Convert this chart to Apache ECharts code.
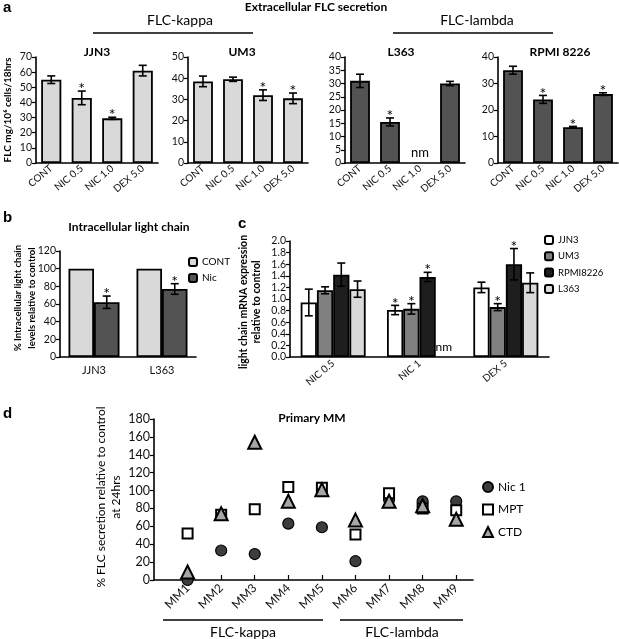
<!DOCTYPE html>
<html><head><meta charset="utf-8">
<script src="https://cdn.jsdelivr.net/npm/echarts@6/dist/echarts.min.js"></script>
<style>html,body{margin:0;padding:0;background:#fff}#c{width:619px;height:639px}</style>
</head><body><div id="c"></div><script>
// ---------- DATA ----------
// Panel a: extracellular FLC secretion
const treatA = ['CONT', 'NIC 0.5', 'NIC 1.0', 'DEX 5.0'];
const jjn3Val = [55, 43, 29.5, 61];
const jjn3Err = [2.5, 4.5, 0.7, 3.5];
const jjn3Sig = [0, 1, 1, 0];
const um3Val = [38.5, 39.5, 32, 30.5];
const um3Err = [2.5, 1, 2.5, 2.5];
const um3Sig = [0, 0, 1, 1];
const l363Val = [31, 15.5, null, 30];
const l363Err = [2.5, 1.5, 0, 0.8];
const l363Sig = [0, 1, 0, 0];
const l363Nm = [0, 0, 1, 0];
const rpmiVal = [35, 24, 13.5, 26];
const rpmiErr = [1.5, 1.5, 0.3, 0.5];
const rpmiSig = [0, 1, 1, 1];
const yTicksA = [{max: 70, step: 10}, {max: 50, step: 10}, {max: 40, step: 5}, {max: 40, step: 10}];
// Panel b: intracellular light chain
const cellsB = ['JJN3', 'L363'];
const bCont = [100, 100];
const bNic = [62, 77];
const bNicErr = [7, 6];
const bNicSig = [1, 1];
// Panel c: light chain mRNA
const treatC = ['NIC 0.5', 'NIC 1', 'DEX 5'];
const cJJN3 = [0.94, 0.81, 1.2];
const cJJN3Err = [0.23, 0.08, 0.09];
const cJJN3Sig = [0, 1, 0];
const cUM3 = [1.15, 0.83, 0.86];
const cUM3Err = [0.06, 0.09, 0.06];
const cUM3Sig = [0, 1, 1];
const cRPMI = [1.42, 1.38, 1.6];
const cRPMIErr = [0.2, 0.08, 0.27];
const cRPMISig = [0, 1, 1];
const cL363 = [1.17, null, 1.28];
const cL363Err = [0.14, 0, 0.17];
const cL363Nm = [0, 1, 0];
// Panel d: primary MM
const mmCats = ['MM1', 'MM2', 'MM3', 'MM4', 'MM5', 'MM6', 'MM7', 'MM8', 'MM9'];
const dNic = [0, 33, 29, 63, 59, 21, 90, 88, 88];
const dMPT = [52, 73, 79, 104, 103, 51, 97, 80, 78];
const dCTD = [9, 74, 154, 88, 101, 67, 88, 83, 68];

// ---------- CHART ----------
const chart = echarts.init(document.getElementById('c'));
const F = 'Lato';
const LIGHT = '#d9d9d9', DARK = '#535353';

const grids = [
  {left: 36, top: 57, width: 122, height: 106},
  {left: 188, top: 57, width: 120, height: 106},
  {left: 345, top: 57, width: 120, height: 106},
  {left: 498, top: 57, width: 120, height: 106},
  {left: 60, top: 251, width: 136, height: 106},
  {left: 290, top: 241, width: 259, height: 116},
  {left: 154, top: 419, width: 319, height: 161}
];

const axLine = {show: true, lineStyle: {color: '#000', width: 1.6}};
function yAx(gi, max, step, fs, fmt) {
  return {
    type: 'value', gridIndex: gi, min: 0, max: max, interval: step,
    axisLine: axLine, splitLine: {show: false},
    axisTick: {show: true, length: 4, lineStyle: {color: '#000', width: 1.2}},
    axisLabel: {fontSize: fs, color: '#111', margin: 4, fontFamily: F, formatter: fmt}
  };
}
function xCat(gi, data, rot, fs, margin) {
  return {
    type: 'category', gridIndex: gi, data: data,
    axisLine: axLine, axisTick: {show: false},
    axisLabel: {rotate: rot, fontSize: fs, color: '#111', margin: margin, interval: 0, fontFamily: F}
  };
}

const xAxes = [], yAxes = [];
for (let i = 0; i < 4; i++) {
  xAxes.push(xCat(i, treatA, 40, 10, 4));
  yAxes.push(yAx(i, yTicksA[i].max, yTicksA[i].step, 10.5));
}
xAxes.push(xCat(4, cellsB, 0, 11, 8));
yAxes.push(yAx(4, 120, 20, 10.5));
xAxes.push(xCat(5, treatC, 40, 10, 5));
yAxes.push(yAx(5, 2, 0.2, 10.5, v => v.toFixed(1)));
const mmIdx = mmCats.map((_, i) => i + 1);
xAxes.push({
  type: 'value', gridIndex: 6, min: 0, max: 9.5, interval: 1,
  axisLine: axLine, splitLine: {show: false},
  axisTick: {show: true, inside: true, length: 5, customValues: mmIdx, lineStyle: {color: '#000', width: 1.2}},
  axisLabel: {customValues: mmIdx, rotate: 45, fontSize: 12, color: '#111', margin: 6, fontFamily: F,
    formatter: v => mmCats[Math.round(v) - 1] || ''}
});
yAxes.push(yAx(6, 180, 20, 12.5));

function makeErr(n, i, gap) {
  return function (params, api) {
    const cat = api.value(0), v = api.value(1), e = api.value(2), sig = api.value(3), nm = api.value(4);
    const base = api.coord([cat, 0]);
    const catW = api.size([1, 0])[0];
    const groupW = catW * (1 - gap);
    const bw = groupW / n;
    const x = base[0] - groupW / 2 + (i + 0.5) * bw;
    const ch = [];
    if (nm) {
      ch.push({type: 'text', style: {text: 'nm', x: x, y: base[1] - 10, fill: '#000',
        font: (n === 1 ? '13px ' : '12px ') + F, align: 'center', verticalAlign: 'middle',
        textAlign: 'center', textVerticalAlign: 'middle'}});
      return {type: 'group', children: ch};
    }
    const top = api.coord([cat, v + e])[1], bot = api.coord([cat, v - e])[1];
    const cap = 4;
    const ls = {stroke: '#000', lineWidth: 1.6};
    if (e > 0) {
      ch.push({type: 'line', shape: {x1: x, y1: top, x2: x, y2: bot}, style: ls});
      ch.push({type: 'line', shape: {x1: x - cap, y1: top, x2: x + cap, y2: top}, style: ls});
      ch.push({type: 'line', shape: {x1: x - cap, y1: bot, x2: x + cap, y2: bot}, style: ls});
    }
    if (sig) {
      ch.push({type: 'text', style: {text: '*', x: x, y: top - 2, fill: '#000', font: '16px ' + F,
        align: 'center', verticalAlign: 'middle', textAlign: 'center', textVerticalAlign: 'middle'}});
    }
    return {type: 'group', children: ch};
  };
}
function errData(vals, errs, sigs, nms) {
  return vals.map((v, k) => [k, v == null ? 0 : v, errs[k] || 0, sigs ? sigs[k] : 0, nms ? nms[k] : 0]);
}
function errSeries(ai, vals, errs, sigs, nms, n, i, gap) {
  return {type: 'custom', xAxisIndex: ai, yAxisIndex: ai, renderItem: makeErr(n, i, gap),
    data: errData(vals, errs, sigs, nms), encode: {x: 0, y: 1}, z: 10, clip: false, silent: true};
}
const barStyle = c => ({color: c, borderColor: '#000', borderWidth: 1.8});

const series = [];
const aSets = [
  [jjn3Val, jjn3Err, jjn3Sig, null, LIGHT],
  [um3Val, um3Err, um3Sig, null, LIGHT],
  [l363Val, l363Err, l363Sig, l363Nm, DARK],
  [rpmiVal, rpmiErr, rpmiSig, null, DARK]
];
aSets.forEach((s, i) => {
  series.push({type: 'bar', name: 'a' + i, xAxisIndex: i, yAxisIndex: i, data: s[0],
    itemStyle: barStyle(s[4]), barCategoryGap: '34%', silent: true});
  series.push(errSeries(i, s[0], s[1], s[2], s[3], 1, 0, 0.34));
});
// panel b
series.push({type: 'bar', name: 'CONT', xAxisIndex: 4, yAxisIndex: 4, data: bCont,
  itemStyle: barStyle(LIGHT), barGap: '0%', barCategoryGap: '25%'});
series.push({type: 'bar', name: 'Nic', xAxisIndex: 4, yAxisIndex: 4, data: bNic,
  itemStyle: barStyle(DARK), barGap: '0%', barCategoryGap: '25%'});
series.push(errSeries(4, bNic, bNicErr, bNicSig, null, 2, 1, 0.25));
// panel c
const cSets = [
  ['JJN3', cJJN3, cJJN3Err, cJJN3Sig, null, '#ffffff'],
  ['UM3', cUM3, cUM3Err, cUM3Sig, null, '#808080'],
  ['RPMI8226', cRPMI, cRPMIErr, cRPMISig, null, '#1e1e1e'],
  ['L363', cL363, cL363Err, null, cL363Nm, LIGHT]
];
cSets.forEach((s, i) => {
  series.push({type: 'bar', name: s[0], xAxisIndex: 5, yAxisIndex: 5, data: s[1],
    itemStyle: barStyle(s[5]), barGap: '0%', barCategoryGap: '24.7%'});
});
cSets.forEach((s, i) => {
  series.push(errSeries(5, s[1], s[2], s[3], s[4], 4, i, 0.247));
});
// panel d
const toPts = arr => arr.map((v, i) => [i + 1, v]);
series.push({type: 'scatter', name: 'Nic 1', xAxisIndex: 6, yAxisIndex: 6, data: toPts(dNic),
  symbol: 'circle', symbolSize: 11, clip: false,
  itemStyle: {color: '#3d3d3d', borderColor: '#000', borderWidth: 1.2, opacity: 1}});
series.push({type: 'scatter', name: 'MPT', xAxisIndex: 6, yAxisIndex: 6, data: toPts(dMPT),
  symbol: 'rect', symbolSize: 10, clip: false,
  itemStyle: {color: '#ffffff', borderColor: '#000', borderWidth: 2, opacity: 1}});
series.push({type: 'scatter', name: 'CTD', xAxisIndex: 6, yAxisIndex: 6, data: toPts(dCTD),
  symbol: 'triangle', symbolSize: 13, clip: false,
  itemStyle: {color: '#a6a6a6', borderColor: '#000', borderWidth: 2, opacity: 1}});

const legTxt = fs => ({fontSize: fs, color: '#000', fontFamily: F});
const legends = [
  {data: ['CONT', 'Nic'], orient: 'vertical', left: 188, top: 257, itemWidth: 8, itemHeight: 8,
    itemGap: 6, textStyle: legTxt(10), selectedMode: false, padding: 0},
  {data: ['JJN3', 'UM3', 'RPMI8226', 'L363'], orient: 'vertical', left: 544, top: 235, itemWidth: 8,
    itemHeight: 8, itemGap: 6.3, textStyle: legTxt(9.5), selectedMode: false, padding: 0},
  {data: ['Nic 1', 'MPT', 'CTD'], orient: 'vertical', left: 482, top: 481, itemWidth: 10,
    itemHeight: 10, itemGap: 10.5, textStyle: legTxt(12), selectedMode: false, padding: 0}
];

function T(x, y, text, font, opt) {
  opt = opt || {};
  return {type: 'text', x: x, y: y, rotation: opt.rot || 0, silent: true,
    style: {text: text, fill: '#000', font: font, align: opt.align || 'center', verticalAlign: 'middle',
      textAlign: opt.align || 'center', textVerticalAlign: 'middle', lineHeight: opt.lh}};
}
function L(x1, y1, x2, y2) {
  return {type: 'line', silent: true, shape: {x1, y1, x2, y2}, style: {stroke: '#000', lineWidth: 1.5}};
}
const R = Math.PI / 2;
const graphics = [
  T(3, 8, 'a', 'bold 15px "Liberation Sans"', {align: 'left'}),
  T(316, 7, 'Extracellular FLC secretion', 'bold 12px ' + F),
  T(180, 20, 'FLC-kappa', '14px ' + F), L(93, 33, 253, 33),
  T(477, 20, 'FLC-lambda', '14px ' + F), L(393, 33, 553, 33),
  T(97, 52, 'JJN3', 'bold 12px ' + F), T(242, 52, 'UM3', 'bold 12px ' + F),
  T(401, 52, 'L363', 'bold 12px ' + F), T(560, 52, 'RPMI 8226', 'bold 12px ' + F),
  T(8, 110, 'FLC mg/10\u2076 cells/18hrs', 'bold 10px ' + F, {rot: R}),
  T(3, 218, 'b', 'bold 15px "Liberation Sans"', {align: 'left'}),
  T(129, 227, 'Intracellular light chain', 'bold 12px ' + F),
  T(25, 298, '% Intracellular light chain\nlevels relative to control', 'bold 9.5px ' + F, {rot: R, lh: 14}),
  T(238, 224, 'c', 'bold 15px "Liberation Sans"', {align: 'left'}),
  T(250, 302, 'light chain mRNA expression\nrelative to control', 'bold 10.5px ' + F, {rot: R, lh: 13}),
  T(3, 414, 'd', 'bold 15px "Liberation Sans"', {align: 'left'}),
  T(312, 418, 'Primary MM', 'bold 12px ' + F),
  T(109, 497, '% FLC secretion relative to control\nat 24hrs', '12px ' + F, {rot: R, lh: 15}),
  L(163, 620, 323, 620), T(243, 632, 'FLC-kappa', '14px ' + F),
  L(340, 620, 463, 620), T(402, 632, 'FLC-lambda', '14px ' + F)
];

chart.setOption({
  animation: false,
  textStyle: {fontFamily: F},
  grid: grids,
  xAxis: xAxes,
  yAxis: yAxes,
  legend: legends,
  series: series,
  graphic: {elements: graphics}
});
</script></body></html>
